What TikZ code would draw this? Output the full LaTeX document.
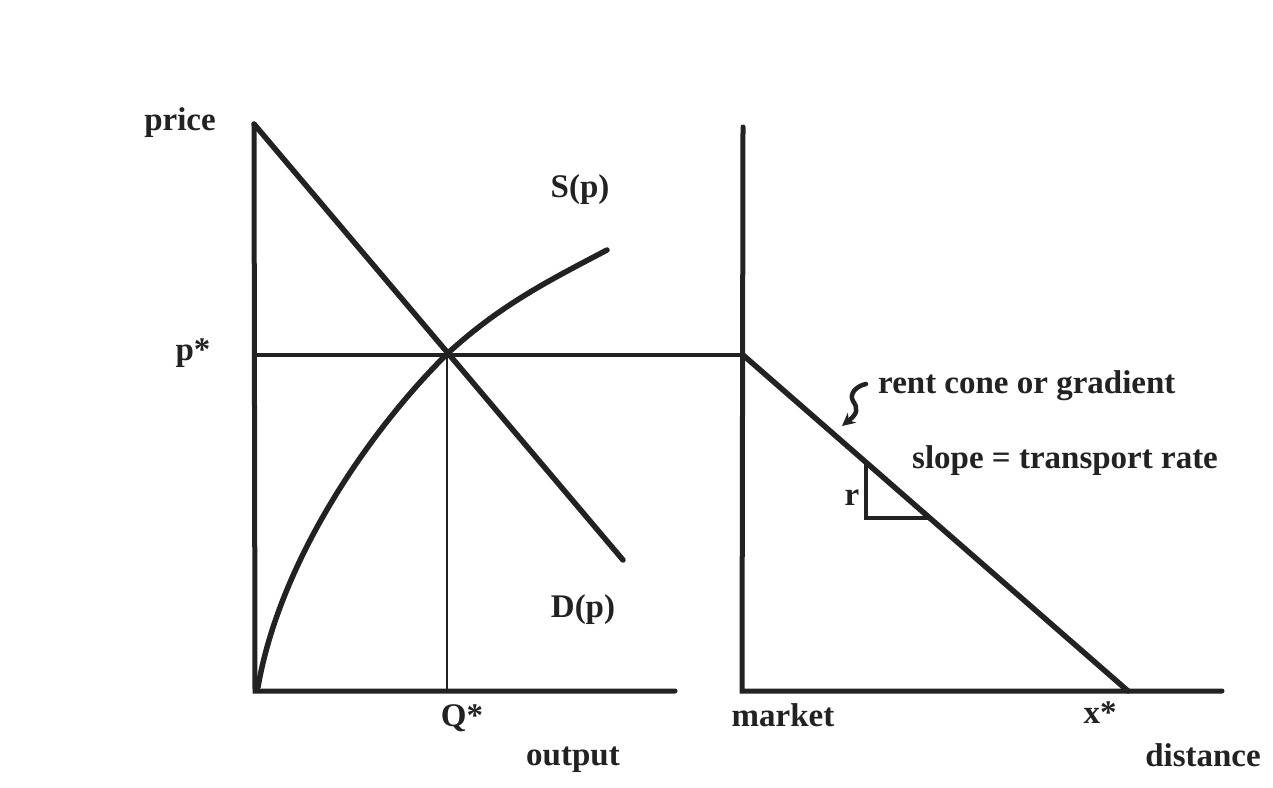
\documentclass[tikz,border=0pt]{standalone}
\usepackage{fontspec}
\setmainfont{Liberation Serif}
\usetikzlibrary{positioning,arrows.meta}
\definecolor{ink}{HTML}{222222}

\begin{document}
\begin{tikzpicture}[x=1pt,y=-1pt,
  axis/.style={ink, line width=5pt, line cap=round},
  curve/.style={ink, line width=5.5pt, line cap=round},
  guide/.style={ink, line width=3.2pt},
  lbl/.style={text=ink, font=\bfseries\fontsize{33}{38}\selectfont, inner sep=0pt}]

\useasboundingbox (0,0) rectangle (1273,787);

% left diagram: price / output
\coordinate (O1)  at (255,691);
\coordinate (Ptop) at (254,124);
\coordinate (Qend) at (675,691);
\coordinate (E)   at (447,354);
\coordinate (Dend) at (623,560);
\coordinate (Sbeg) at (258,687);
\coordinate (Send) at (607,250);
\coordinate (Qs)  at (447,691);

% right diagram: rent / distance
\coordinate (O2)  at (742,691);
\coordinate (Rtop) at (743,127);
\coordinate (Dist) at (1222,691);
\coordinate (M)   at (743,355);
\coordinate (Xs)  at (1128,691);
\coordinate (Ps)  at (254,355);
\coordinate (T1)  at (866,461);
\coordinate (T2)  at (866,518);
\coordinate (T3)  at (930,518);

\draw[axis] (Ptop) -- (O1) -- (Qend);
\draw[axis] (Rtop) -- (O2) -- (Dist);

\draw[guide] (Ps) -- (M);
\draw[guide, line width=2.4pt] (E) -- (Qs);

\draw[curve] (Ptop) -- (Dend);
\draw[curve] (Sbeg) .. controls (280,560) and (370,430) .. (E)
                    .. controls (500,305) and (550,280) .. (Send);
\draw[curve] (M) -- (Xs);

\draw[guide, line width=3.6pt] (T1) -- (T2) -- (T3);

\draw[ink, line width=4.5pt, line cap=round, -{Stealth[length=13pt,width=13pt]}]
  (866,384) .. controls (856,386) and (849,394) .. (853,401)
            .. controls (858,408) and (858,414) .. (848,421)
            -- (842,426);

\node[lbl] (price) at (180,123) {price};
\node[lbl] (pstar) at (193,353) {p*};
\node[lbl] (Sp)    at (580,190) {S(p)};
\node[lbl] (Dp)    at (583,610) {D(p)};
\node[lbl] (Qstar) at (462,718) {Q*};
\node[lbl] (out)   at (573,760) {output};
\node[lbl] (mkt)   at (783,715) {market};
\node[lbl] (xstar) at (1100,713) {x*};
\node[lbl] (dist)  at (1203,755) {distance};
\node[lbl, anchor=west] (rent)  at (878,386) {rent cone or gradient};
\node[lbl, anchor=west] (slope) at (912,461) {slope = transport rate};
\node[lbl] (r) at (852,498) {r};

\end{tikzpicture}
\end{document}
